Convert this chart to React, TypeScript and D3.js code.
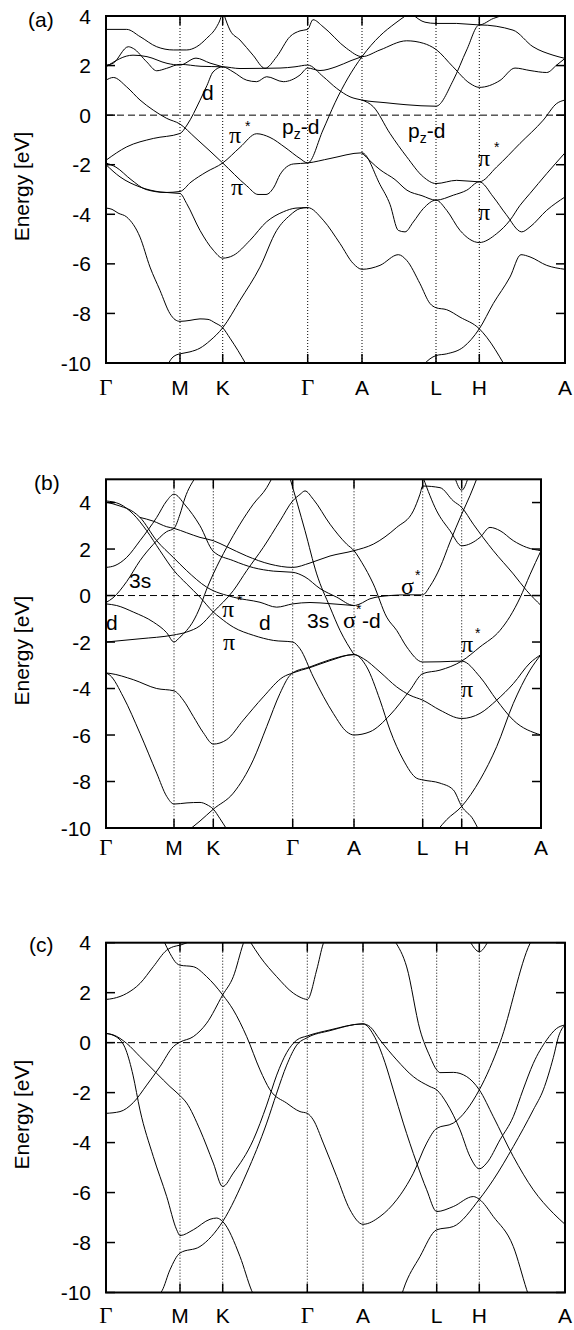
import React from 'react';
import * as d3 from 'd3';

type Pt = [number, number];

const SANS = "'Liberation Sans', Arial, Helvetica, sans-serif";
const SERIF = "'Liberation Serif', 'Times New Roman', serif";

// high-symmetry labels and positions (k-path distance, arbitrary units)
const kLabels = ['Γ', 'M', 'K', 'Γ', 'A', 'L', 'H', 'A'];
const kPosA = [0, 0.74, 1.167, 2.017, 2.56, 3.3, 3.733, 4.59];
const kPosB = [0, 0.68, 1.073, 1.867, 2.48, 3.167, 3.557, 4.35];
const kPosC = [0, 0.74, 1.167, 2.013, 2.57, 3.307, 3.733, 4.59];
const eTicks = [4, 2, 0, -2, -4, -6, -8, -10];

// ---------------- panel (a) bands: [k, E(eV)] ----------------
const aS1: Pt[] = [[0,-3.75],[0.06,-3.8],[0.12,-3.95],[0.207,-4.11],[0.34,-4.92],[0.44,-6.13],[0.54,-7.07],[0.64,-8.01],[0.69,-8.25],[0.74,-8.32],[0.84,-8.28],[0.94,-8.22],[1.02,-8.24],[1.09,-8.38],[1.167,-8.58],[1.24,-9.0],[1.32,-9.5],[1.4,-10.05]];
const aS2: Pt[] = [[0.62,-10.05],[0.66,-9.8],[0.7,-9.68],[0.74,-9.63],[0.84,-9.55],[0.94,-9.4],[1.04,-9.1],[1.167,-8.58],[1.34,-7.47],[1.54,-6.13],[1.707,-4.65],[1.84,-4.04],[1.94,-3.77],[2.017,-3.73],[2.173,-4.24],[2.34,-5.18],[2.473,-5.99],[2.56,-6.22],[2.74,-6.06],[2.923,-5.63],[3.007,-5.86],[3.14,-6.8],[3.24,-7.6],[3.3,-7.77],[3.407,-7.85],[3.54,-8.15],[3.733,-8.62],[3.807,-8.96],[3.98,-10.05]];
const aS3: Pt[] = [[3.18,-10.05],[3.24,-9.83],[3.3,-9.7],[3.407,-9.63],[3.573,-9.36],[3.733,-8.62],[3.873,-7.6],[4.04,-6.53],[4.15,-5.63],[4.24,-5.72],[4.407,-6.06],[4.59,-6.22]];
const aPi: Pt[] = [[0,-2.0],[0.14,-2.49],[0.34,-2.9],[0.54,-3.1],[0.74,-3.16],[0.807,-3.57],[0.94,-4.65],[1.073,-5.45],[1.167,-5.77],[1.273,-5.66],[1.44,-5.05],[1.607,-4.3],[1.773,-3.9],[1.9,-3.75],[2.017,-3.73]];
const aPiStar: Pt[] = [[0,-1.93],[0.1,-2.1],[0.25,-2.6],[0.4,-3.0],[0.6,-3.12],[0.74,-3.08],[0.85,-2.7],[1.0,-2.3],[1.167,-1.93],[1.34,-1.3],[1.507,-0.75],[1.64,-0.9],[1.79,-1.3],[1.94,-1.75],[2.017,-1.93],[2.17,-0.6],[2.29,0.5],[2.42,1.5],[2.56,2.36],[2.74,3.2],[2.89,3.7],[3.01,4.05]];
const aE: Pt[] = [[0,1.41],[0.073,1.52],[0.207,1.14],[0.34,0.61],[0.473,0.2],[0.607,-0.13],[0.74,-0.36],[0.89,-0.9],[1.04,-1.45],[1.167,-1.93],[1.407,-2.85],[1.52,-3.2],[1.6,-3.2],[1.68,-2.9],[1.74,-2.4],[1.873,-1.97],[2.017,-1.93],[2.24,-1.75],[2.56,-1.52],[2.74,-2.8],[2.84,-3.6],[2.923,-4.65],[2.99,-4.71],[3.073,-4.31],[3.173,-3.77],[3.3,-3.43],[3.407,-3.84],[3.54,-4.65],[3.733,-5.14],[3.907,-4.78],[4.04,-4.24],[4.14,-3.64],[4.24,-3.16],[4.407,-2.36],[4.59,-1.52]];
const aQ2: Pt[] = [[2.56,-1.52],[2.74,-2.2],[2.89,-2.6],[3.01,-3.03],[3.16,-3.25],[3.3,-3.43],[3.473,-3.23],[3.607,-3.03],[3.733,-2.69],[3.873,-3.3],[4.0,-4.0],[4.157,-4.71],[4.24,-4.51],[4.407,-3.84],[4.59,-3.3]];
const aD: Pt[] = [[0,-1.82],[0.207,-1.28],[0.473,-0.94],[0.74,-0.74],[0.81,-0.4],[0.94,0.6],[1.01,1.2],[1.07,1.74],[1.167,1.95],[1.34,1.88],[1.59,1.89],[1.74,1.9],[1.89,1.95],[2.017,2.02],[2.173,1.55],[2.307,1.08],[2.44,0.74],[2.56,0.61],[2.8,0.5],[3.0,0.42],[3.3,0.36],[3.473,1.41],[3.607,2.63],[3.733,3.64],[4.07,3.43],[4.27,2.76],[4.47,2.42],[4.59,2.29]];
const aC: Pt[] = [[0,2.02],[0.07,2.09],[0.223,2.76],[0.273,2.69],[0.407,2.15],[0.507,1.79],[0.607,1.89],[0.74,2.05],[0.95,1.97],[1.167,1.95],[1.27,1.75],[1.407,1.41],[1.507,1.35],[1.607,1.55],[1.773,1.35],[1.94,1.62],[2.017,1.9],[2.14,1.8],[2.3,1.95],[2.45,2.2],[2.56,2.36]];
const aP1: Pt[] = [[2.56,0.61],[2.673,0.34],[2.84,-0.74],[3.007,-1.68],[3.173,-2.49],[3.3,-2.76],[3.507,-2.63],[3.733,-2.69],[3.907,-2.09],[4.14,-1.14],[4.373,-0.2],[4.507,0.47],[4.59,0.61]];
const aF: Pt[] = [[0,1.95],[0.27,2.42],[0.41,2.36],[0.61,2.09],[0.74,2.02],[0.9,2.3],[1.04,2.1],[1.167,1.95]];
const aTopA: Pt[] = [[0,3.46],[0.207,3.46],[0.34,3.17],[0.507,2.76],[0.673,2.63],[0.807,2.63],[0.907,2.76],[1.007,3.1],[1.107,3.57],[1.14,3.84],[1.157,4.05]];
const aTopB: Pt[] = [[1.18,4.05],[1.24,3.43],[1.34,3.03],[1.47,2.42],[1.59,1.89],[1.707,2.36],[1.84,3.17],[1.94,3.4],[2.017,3.46],[2.07,3.85],[2.17,3.57],[2.407,2.69],[2.56,2.36],[2.74,2.63],[3.007,3.0],[3.173,2.9],[3.3,2.65],[3.47,1.95],[3.64,1.28],[3.733,1.12],[3.94,1.4],[4.09,1.9],[4.24,1.8],[4.407,1.72],[4.507,2.02],[4.59,2.29]];
const aTopT: Pt[] = [[3.07,4.05],[3.19,3.75],[3.3,3.7],[3.507,3.7],[3.733,3.64],[3.873,3.9],[3.99,4.05]];

// ---------------- panel (b) bands ----------------
const b1: Pt[] = [[0,-3.33],[0.04,-3.43],[0.173,-4.36],[0.34,-5.93],[0.507,-7.64],[0.607,-8.64],[0.68,-8.97],[0.81,-8.92],[0.94,-8.9],[1.01,-9.0],[1.073,-9.19],[1.14,-9.6],[1.207,-10.05]];
const b2: Pt[] = [[0.84,-10.05],[0.94,-9.7],[1.073,-9.19],[1.273,-8.5],[1.473,-7.07],[1.607,-5.64],[1.74,-4.21],[1.84,-3.43],[1.867,-3.33],[2.04,-3.07],[2.24,-2.76],[2.48,-2.54],[2.573,-2.71],[2.74,-3.29],[2.907,-3.93],[3.04,-4.29],[3.167,-4.5],[3.34,-4.93],[3.557,-5.29],[3.74,-5.07],[3.907,-4.5],[4.073,-3.79],[4.24,-2.9],[4.35,-2.54]];
const b3: Pt[] = [[0,-3.33],[0.04,-3.35],[0.273,-3.62],[0.507,-4.0],[0.68,-4.1],[0.773,-4.5],[0.873,-5.2],[0.973,-5.9],[1.073,-6.39],[1.207,-6.2],[1.373,-5.36],[1.573,-4.36],[1.773,-3.5],[1.867,-3.33],[2.04,-3.1],[2.24,-2.8],[2.48,-2.54],[2.607,-3.07],[2.74,-4.5],[2.84,-5.79],[2.973,-7.07],[3.107,-7.86],[3.167,-7.93],[3.34,-8.07],[3.473,-8.36],[3.557,-9.07],[3.673,-9.64],[3.723,-10.05]];
const b4: Pt[] = [[3.323,-10.05],[3.407,-9.64],[3.557,-9.07],[3.74,-7.93],[3.907,-6.5],[4.073,-4.64],[4.24,-3.21],[4.35,-2.54]];
const bA: Pt[] = [[0,4.07],[0.14,3.93],[0.273,3.5],[0.407,2.79],[0.54,1.93],[0.68,1.07],[0.807,0.5],[0.94,-0.07],[1.073,-0.71],[1.14,-0.95],[1.273,-1.36],[1.473,-1.71],[1.673,-1.93],[1.867,-2.0],[1.94,-2.29],[2.073,-3.5],[2.273,-5.07],[2.407,-5.86],[2.48,-6.0],[2.64,-5.86],[2.84,-5.14],[3.04,-4.07],[3.167,-3.36],[3.34,-3.21],[3.557,-2.82],[3.74,-2.21],[3.94,-1.5],[4.04,-0.9],[4.14,-0.1],[4.24,0.9],[4.35,1.93]];
const bB: Pt[] = [[0,-2.0],[0.34,-1.86],[0.673,-1.7],[0.807,-1.57],[0.94,-1.3],[1.073,-0.71],[1.273,0.21],[1.407,1.07],[1.573,2.07],[1.74,3.21],[1.867,4.07],[1.94,4.35],[1.99,4.5],[2.073,4.14],[2.24,3.07],[2.407,2.21],[2.48,1.93],[2.557,1.43],[2.673,0.5],[2.807,-0.93],[2.907,-1.5],[3.007,-2.21],[3.167,-2.86],[3.34,-2.85],[3.557,-2.82],[3.74,-3.5],[3.907,-4.5],[4.073,-5.36],[4.35,-6.0]];
const bC: Pt[] = [[0,-0.36],[0.107,-0.43],[0.273,-0.71],[0.473,-1.14],[0.607,-1.6],[0.68,-2.0],[0.74,-1.79],[0.807,-1.5],[0.873,-1.1],[0.94,-0.5],[1.0,0.2],[1.073,0.93],[1.207,2.07],[1.34,3.07],[1.473,3.93],[1.607,4.64],[1.66,5.05]];
const b3s: Pt[] = [[0,-0.3],[0.07,-0.1],[0.207,0.6],[0.34,1.5],[0.473,2.2],[0.607,2.75],[0.68,2.89],[0.74,3.5],[0.79,4.2],[0.89,5.05]];
const bE: Pt[] = [[0.34,3.36],[0.473,3.2],[0.607,2.96],[0.68,2.89],[0.807,2.7],[0.94,2.5],[1.073,2.36],[1.207,2.1],[1.407,1.7],[1.64,1.35],[1.867,1.21],[2.04,1.4],[2.24,1.7],[2.48,1.93],[2.673,2.21],[2.907,2.93],[3.073,3.64],[3.14,4.36],[3.167,4.71],[3.34,4.64],[3.473,4.07],[3.557,3.79],[3.673,3.07],[3.873,1.93],[4.073,0.93],[4.207,0.21],[4.35,-0.43]];
const bF: Pt[] = [[0,1.21],[0.09,1.29],[0.207,1.64],[0.34,2.36],[0.507,3.36],[0.607,4.07],[0.68,4.36],[0.79,3.9],[0.94,3.0],[1.073,1.9],[1.273,1.5],[1.473,1.2],[1.673,1.05],[1.867,1.0],[1.99,0.8],[2.14,0.3],[2.307,-0.07],[2.48,-0.43],[2.54,-0.36],[2.64,-0.14],[2.84,0.0],[3.007,0.03],[3.167,0.03],[3.24,0.4],[3.34,1.2],[3.44,2.3],[3.557,3.5],[3.64,4.3],[3.71,5.05]];
const bG: Pt[] = [[0,4.02],[0.14,3.85],[0.273,3.6],[0.34,3.36],[0.507,2.36],[0.673,1.64],[0.807,1.07],[1.007,0.36],[1.273,-0.07],[1.54,-0.29],[1.707,-0.5],[1.867,-0.36],[2.04,-0.3],[2.24,-0.35],[2.48,-0.43]];
const b3sB: Pt[] = [[1.84,5.05],[1.99,2.79],[2.107,0.93],[2.24,-0.5],[2.34,-1.5],[2.48,-2.54]];
const bH: Pt[] = [[3.173,5.05],[3.307,3.64],[3.44,2.79],[3.557,2.14],[3.74,2.5],[3.84,2.93],[3.94,2.79],[4.073,2.36],[4.207,2.07],[4.35,1.93]];
const bV: Pt[] = [[3.49,5.05],[3.557,4.53],[3.62,5.05]];

// ---------------- panel (c) bands ----------------
const c1: Pt[] = [[0,1.73],[0.073,1.77],[0.207,1.97],[0.34,2.37],[0.473,3.04],[0.607,3.7],[0.673,3.84],[0.74,3.9],[0.84,4.05]];
const c2: Pt[] = [[0.58,4.05],[0.64,3.57],[0.707,3.17],[0.74,3.1],[0.873,3.04],[1.007,2.64],[1.167,1.91],[1.273,1.31],[1.407,0.24],[1.54,-1.09],[1.64,-1.89],[1.807,-2.42],[1.94,-2.76],[2.013,-2.83],[2.073,-3.09],[2.173,-4.02],[2.307,-5.36],[2.44,-6.69],[2.57,-7.27],[2.74,-6.96],[2.907,-6.29],[3.073,-5.23],[3.207,-4.02],[3.307,-3.43],[3.473,-3.22],[3.733,-1.89],[3.94,0.0],[4.24,3.97],[4.25,4.05]];
const c3: Pt[] = [[1.44,4.05],[1.54,3.44],[1.707,2.64],[1.873,1.98],[1.94,1.82],[2.013,1.73],[2.107,2.91],[2.173,3.97],[2.18,4.05]];
const c7: Pt[] = [[0,0.37],[0.073,0.31],[0.207,-0.03],[0.34,-0.56],[0.507,-1.23],[0.64,-1.76],[0.74,-2.12],[0.807,-2.42],[0.94,-3.49],[1.073,-4.82],[1.167,-5.76],[1.273,-5.22],[1.473,-3.89],[1.607,-2.5],[1.707,-1.3],[1.807,-0.4],[1.907,0.1],[2.013,0.27],[2.24,0.51],[2.57,0.75],[2.64,0.64],[2.74,0.11],[2.907,-0.69],[3.073,-1.36],[3.24,-1.76],[3.307,-1.89],[3.407,-2.42],[3.54,-3.49],[3.64,-4.56],[3.733,-5.05],[3.807,-4.82],[3.94,-3.89],[4.073,-2.96],[4.17,-1.89],[4.273,-0.83],[4.407,0.11],[4.507,0.57],[4.59,0.71]];
const c9: Pt[] = [[0.54,-10.05],[0.56,-9.93],[0.64,-9.09],[0.74,-8.42],[0.94,-8.16],[1.167,-7.16],[1.407,-5.22],[1.607,-3.22],[1.707,-2.02],[1.807,-0.9],[1.907,-0.1],[2.013,0.2],[2.24,0.48],[2.57,0.75],[2.69,0.2],[2.79,-0.8],[2.873,-1.89],[2.973,-3.22],[3.107,-4.82],[3.207,-5.89],[3.307,-6.76],[3.473,-6.56],[3.673,-6.16],[3.733,-6.27],[3.873,-6.96],[4.073,-8.16],[4.207,-9.89],[4.22,-10.05]];
const c8: Pt[] = [[0,0.37],[0.107,0.22],[0.2,-0.3],[0.27,-1.3],[0.34,-2.7],[0.473,-4.56],[0.607,-6.16],[0.707,-7.49],[0.74,-7.72],[0.873,-7.49],[1.04,-7.07],[1.107,-7.02],[1.167,-7.16],[1.34,-8.56],[1.457,-9.93],[1.47,-10.05]];
const c10: Pt[] = [[0,-2.83],[0.14,-2.76],[0.273,-2.4],[0.407,-1.7],[0.54,-0.96],[0.673,-0.16],[0.74,0.02],[0.873,0.24],[1.007,0.78],[1.167,1.91],[1.273,2.64],[1.373,3.97],[1.38,4.05]];
const c6: Pt[] = [[2.89,4.05],[3.007,3.03],[3.14,0.51],[3.24,-0.56],[3.307,-1.09],[3.34,-1.2],[3.473,-1.19],[3.607,-1.36],[3.733,-1.89],[3.873,-2.96],[4.073,-4.56],[4.273,-5.89],[4.473,-6.83],[4.59,-7.27]];
const c11: Pt[] = [[2.96,-10.05],[2.973,-9.89],[3.14,-8.56],[3.307,-7.49],[3.473,-7.36],[3.733,-6.27],[3.873,-5.49],[4.073,-4.16],[4.273,-2.69],[4.373,-1.89],[4.473,-0.6],[4.53,0.3],[4.59,0.71]];
const c12: Pt[] = [[3.64,4.05],[3.733,3.64],[3.82,4.05]];

type Note = { kind: 'sans' | 'greek' | 'star' | 'pz'; t: string; x: number; y: number };

const notesA: Note[] = [
  { kind: 'sans', t: 'd', x: 202, y: 100 },
  { kind: 'greek', t: 'π', x: 229, y: 143 },
  { kind: 'star', t: '*', x: 245, y: 131 },
  { kind: 'greek', t: 'π', x: 231, y: 195 },
  { kind: 'pz', t: '', x: 282, y: 134 },
  { kind: 'pz', t: '', x: 408, y: 138 },
  { kind: 'greek', t: 'π', x: 478, y: 166 },
  { kind: 'star', t: '*', x: 494, y: 152 },
  { kind: 'greek', t: 'π', x: 478, y: 220 },
];
const notesB: Note[] = [
  { kind: 'sans', t: '3s', x: 129, y: 588 },
  { kind: 'sans', t: 'd', x: 106, y: 630 },
  { kind: 'greek', t: 'π', x: 222, y: 617 },
  { kind: 'star', t: '*', x: 237, y: 605 },
  { kind: 'sans', t: 'd', x: 259, y: 630 },
  { kind: 'greek', t: 'π', x: 223, y: 650 },
  { kind: 'sans', t: '3s', x: 307, y: 628 },
  { kind: 'greek', t: 'σ', x: 343, y: 628 },
  { kind: 'star', t: '*', x: 356, y: 614 },
  { kind: 'sans', t: '-d', x: 362, y: 628 },
  { kind: 'greek', t: 'σ', x: 401, y: 594 },
  { kind: 'star', t: '*', x: 415, y: 580 },
  { kind: 'greek', t: 'π', x: 461, y: 652 },
  { kind: 'star', t: '*', x: 475, y: 638 },
  { kind: 'greek', t: 'π', x: 461, y: 697 },
];

interface PanelCfg {
  id: string; tag: string; tagX: number; tagY: number;
  left: number; right: number; top: number; bottom: number;
  kMax: number; eMax: number; kPos: number[]; labelY: number;
  bands: Pt[][]; notes: Note[];
}

const panels: PanelCfg[] = [
  { id: 'a', tag: '(a)', tagX: 28, tagY: 27, left: 106, right: 565, top: 16, bottom: 363,
    kMax: 4.59, eMax: 4, kPos: kPosA, labelY: 395,
    bands: [aS1, aS2, aS3, aPi, aPiStar, aE, aQ2, aD, aC, aP1, aF, aTopA, aTopB, aTopT], notes: notesA },
  { id: 'b', tag: '(b)', tagX: 34, tagY: 490, left: 106, right: 541, top: 479.3, bottom: 828,
    kMax: 4.35, eMax: 5, kPos: kPosB, labelY: 855,
    bands: [b1, b2, b3, b4, bA, bB, bC, b3s, bE, bF, bG, b3sB, bH, bV], notes: notesB },
  { id: 'c', tag: '(c)', tagX: 29, tagY: 952, left: 106, right: 565, top: 942.7, bottom: 1292.5,
    kMax: 4.59, eMax: 4, kPos: kPosC, labelY: 1323,
    bands: [c1, c2, c3, c7, c9, c8, c10, c6, c11, c12], notes: [] },
];

const FS = 21;

function NoteText({ n }: { n: Note }) {
  if (n.kind === 'greek') return <text x={n.x} y={n.y} fontFamily={SERIF} fontSize={24}>{n.t}</text>;
  if (n.kind === 'star') return <text x={n.x} y={n.y} fontFamily={SANS} fontSize={14}>{n.t}</text>;
  if (n.kind === 'pz')
    return (
      <text x={n.x} y={n.y} fontFamily={SANS} fontSize={FS}>
        p<tspan fontSize={14} dy={5}>z</tspan><tspan dy={-5}>-d</tspan>
      </text>
    );
  return <text x={n.x} y={n.y} fontFamily={SANS} fontSize={FS}>{n.t}</text>;
}

function Panel({ p }: { p: PanelCfg }) {
  const x = d3.scaleLinear().domain([0, p.kMax]).range([p.left, p.right]);
  const y = d3.scaleLinear().domain([-10, p.eMax]).range([p.bottom, p.top]);
  const line = d3.line<Pt>().x(d => x(d[0])).y(d => y(d[1])).curve(d3.curveMonotoneX);
  const inner = p.kPos.slice(1, -1);
  const clip = `clip-${p.id}`;
  const tick = 9;
  return (
    <g>
      <defs>
        <clipPath id={clip}>
          <rect x={p.left} y={p.top} width={p.right - p.left} height={p.bottom - p.top} />
        </clipPath>
      </defs>
      <g clipPath={`url(#${clip})`}>
        {inner.map((k, i) => (
          <line key={'v' + i} x1={x(k)} x2={x(k)} y1={p.top} y2={p.bottom} stroke="#000" strokeWidth={1} strokeDasharray="1,2" />
        ))}
        <line x1={p.left} x2={p.right} y1={y(0)} y2={y(0)} stroke="#000" strokeWidth={1} strokeDasharray="7,4" />
        {p.bands.map((b, i) => (
          <path key={'b' + i} d={line(b) || ''} fill="none" stroke="#000" strokeWidth={1} />
        ))}
      </g>
      {eTicks.map(e => (
        <g key={'t' + e}>
          <line x1={p.left} x2={p.left + tick} y1={y(e)} y2={y(e)} stroke="#000" strokeWidth={1.5} />
          <line x1={p.right - tick} x2={p.right} y1={y(e)} y2={y(e)} stroke="#000" strokeWidth={1.5} />
          <text x={p.left - 15} y={y(e) + 7.5} textAnchor="end" fontFamily={SANS} fontSize={FS}>{e}</text>
        </g>
      ))}
      {inner.map((k, i) => (
        <g key={'kt' + i}>
          <line x1={x(k)} x2={x(k)} y1={p.bottom} y2={p.bottom - tick} stroke="#000" strokeWidth={1.5} />
          <line x1={x(k)} x2={x(k)} y1={p.top} y2={p.top + tick} stroke="#000" strokeWidth={1.5} />
        </g>
      ))}
      {p.kPos.map((k, i) => (
        <text key={'kl' + i} x={x(k)} y={p.labelY} textAnchor="middle"
          fontFamily={kLabels[i] === 'Γ' ? SERIF : SANS} fontSize={kLabels[i] === 'Γ' ? 23 : FS}>
          {kLabels[i]}
        </text>
      ))}
      <rect x={p.left} y={p.top} width={p.right - p.left} height={p.bottom - p.top} fill="none" stroke="#000" strokeWidth={2} />
      <text x={p.tagX} y={p.tagY} fontFamily={SANS} fontSize={FS}>{p.tag}</text>
      <text transform={`translate(${29},${(p.top + p.bottom) / 2 - 3}) rotate(-90)`} textAnchor="middle"
        fontFamily={SANS} fontSize={FS}>Energy [eV]</text>
      {p.notes.map((n, i) => <NoteText key={'n' + i} n={n} />)}
    </g>
  );
}

export default function App() {
  return (
    <svg width={574} height={1330} style={{ position: 'absolute', left: 0, top: 0, background: '#fff' }}>
      <rect x={0} y={0} width={574} height={1330} fill="#fff" />
      {panels.map(p => <Panel key={p.id} p={p} />)}
    </svg>
  );
}
